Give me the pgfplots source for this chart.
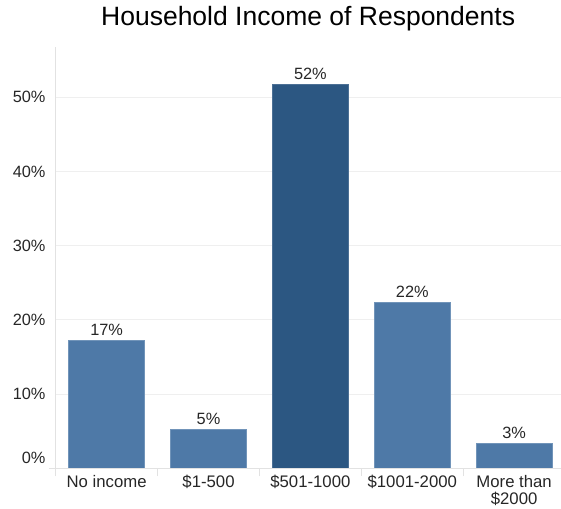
\documentclass[border=0pt]{standalone}
\usepackage{pgfplots}
\pgfplotsset{compat=1.18}
\usepackage{fontspec}
\setmainfont{Liberation Sans}
\definecolor{barblue}{HTML}{4E79A7}
\definecolor{bardark}{HTML}{2C5782}
\definecolor{gridgray}{HTML}{EFEFEF}
\definecolor{axisgray}{HTML}{E2E2E2}
\definecolor{labelgray}{HTML}{262626}
\begin{document}
\begin{tikzpicture}
\begin{axis}[
  scale only axis,
  width=505.7bp, height=421.6bp,
  xmin=-0.504, xmax=4.46,
  ymin=0, ymax=56.8,
  ybar, bar width=0.745, bar shift=0pt,
  axis line style={draw=none},
  xtick={0,1,2,3,4},
  xticklabels={No income,\$1-500,\$501-1000,\$1001-2000,More than\\\$2000},
  xticklabel style={align=center, font=\fontsize{16.8}{17}\selectfont, text=labelgray, inner ysep=1bp, yshift=-1.5bp},
  major x tick style={draw=none},
  minor xtick={-0.5,0.5,1.5,2.5,3.5},
  minor tick length=8bp,
  minor x tick style={draw=axisgray, line width=0.8bp},
  tick align=outside,
  xtick pos=lower,
  ytick={10,20,30,40,50},
  extra y ticks={0},
  extra y tick style={yticklabel style={yshift=10bp}, grid=none},
  ytick style={draw=none},
  ymajorgrids,
  major grid style={draw=gridgray, line width=0.8bp},
  yticklabel={\pgfmathprintnumber{\tick}\%},
  yticklabel style={font=\fontsize{16.4}{18}\selectfont, text=labelgray, xshift=-2bp},
  /pgf/number format/assume math mode=true,
  nodes near coords={\pgfmathprintnumber[fixed,precision=0]{\pgfplotspointmeta}\%},
  nodes near coords style={font=\fontsize{16.4}{18}\selectfont, text=labelgray, yshift=1bp},
  title={Household Income of Respondents},
  title style={at={(0.5,1)}, anchor=base, yshift=15bp, font=\fontsize{26.6}{30}\selectfont, text=black},
  clip=false,
]
\addplot[fill=barblue, draw=barblue!80!white, line width=0.6bp] coordinates {(0,17.25) (1,5.26) (3,22.37) (4,3.37)};
\addplot[fill=bardark, draw=bardark!85!white, line width=0.6bp] coordinates {(2,51.75)};
\draw[axisgray, line width=0.8bp] ([yshift=-5bp]rel axis cs:0,0) -- (rel axis cs:0,1);
\draw[axisgray, line width=0.8bp] ([xshift=-6bp]rel axis cs:0,0) -- (rel axis cs:1,0);
\end{axis}
\pgfresetboundingbox
\path[use as bounding box] (-55.3bp,-40.7bp) rectangle (505.7bp,468.3bp);
\end{tikzpicture}
\end{document}
